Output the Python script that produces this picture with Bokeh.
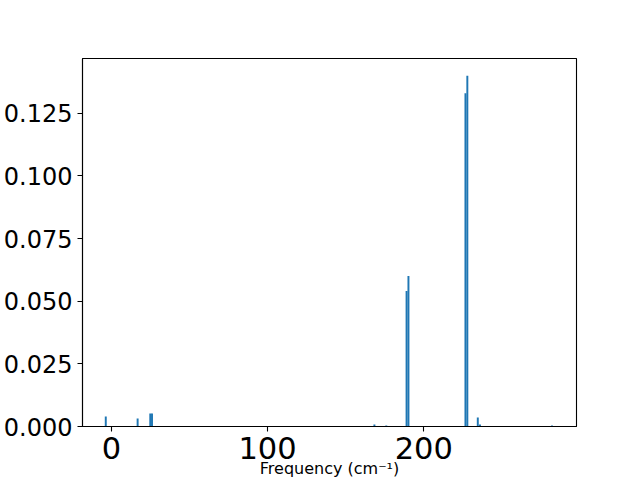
from bokeh.plotting import figure
from bokeh.models import Range1d, FixedTicker
from bokeh.embed import file_html
from bokeh.resources import INLINE

# ---- data ----
freq = [-3.6, 16.8, 24.9, 26.0, 168.4, 176.0, 189.0, 190.2, 226.7, 227.9, 234.6, 236.0, 282.1]
weight = [0.0040, 0.0032, 0.0052, 0.0052, 0.0008, 0.0004, 0.0541, 0.0601, 0.1330, 0.1400, 0.0036, 0.0008, 0.0004]
bin_width = 1.25
x_ticks = [0, 100, 200]
x_tick_labels = ["0", "100", "200"]
y_ticks = [0.0, 0.025, 0.05, 0.075, 0.1, 0.125]
y_tick_labels = ["0.000", "0.025", "0.050", "0.075", "0.100", "0.125"]
x_title = "Frequency (cm\u207b\u00b9)"

FONT = "DejaVu Sans"

W, H = 640, 480
ML, MR, MT, MB = 81, 64, 58, 53

p = figure(width=W, height=H, output_backend="svg", toolbar_location=None,
           x_range=Range1d(-18.5, 297.8), y_range=Range1d(0.0, 0.1469),
           min_border_left=ML, min_border_right=MR, min_border_top=MT, min_border_bottom=MB)

p.vbar(x=freq, top=weight, width=bin_width, bottom=0, color="#1f77b4", line_color=None)

p.grid.visible = False
p.outline_line_color = "black"
p.outline_line_width = 1.1
p.background_fill_color = "white"
p.border_fill_color = "white"

for ax in (p.xaxis, p.yaxis):
    ax.axis_line_color = "black"
    ax.axis_line_width = 1.1
    ax.major_tick_line_color = "black"
    ax.major_tick_line_width = 1.1
    ax.major_tick_in = 0
    ax.major_tick_out = 5
    ax.minor_tick_line_color = None
    ax.major_label_text_font = FONT
    ax.major_label_text_color = "black"
    ax.major_label_standoff = 5

p.xaxis.ticker = FixedTicker(ticks=x_ticks)
p.xaxis.major_label_overrides = dict(zip(x_ticks, x_tick_labels))
p.xaxis.major_label_text_font_size = "30.5px"
p.xaxis.axis_label = x_title
p.xaxis.axis_label_text_font = FONT
p.xaxis.axis_label_text_font_style = "normal"
p.xaxis.axis_label_text_font_size = "16px"
p.xaxis.axis_label_text_color = "black"
p.xaxis.axis_label_standoff = -3

p.yaxis.ticker = FixedTicker(ticks=y_ticks)
p.yaxis.major_label_overrides = dict(zip(y_ticks, y_tick_labels))
p.yaxis.major_label_text_font_size = "24px"

open("out.html", "w").write(file_html(p, INLINE))
